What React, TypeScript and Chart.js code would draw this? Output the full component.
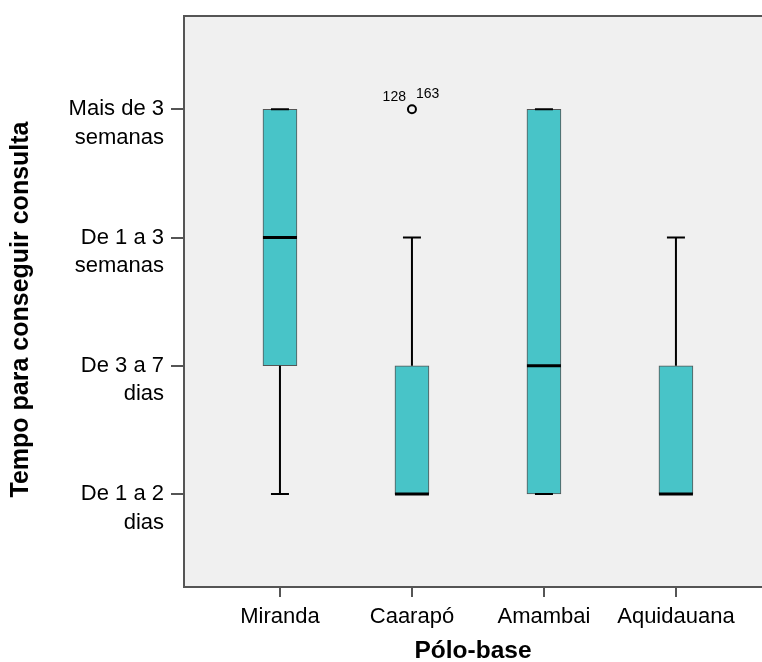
import React, { useEffect, useRef } from "react";
import { Chart, registerables } from "chart.js";

Chart.register(...registerables);

const categories = ["Miranda", "Caarapó", "Amambai", "Aquidauana"];
const whiskerLow = [1, 1, 1, 1];
const q1 = [2, 1, 1, 1];
const median = [3, 1, 2, 1];
const q3 = [4, 2, 4, 2];
const whiskerHigh = [4, 3, 4, 3];

const outlierCat = [2];
const outlierValue = [4];
const outlierIdsLeft = ["128"];
const outlierIdsRight = ["163"];

const yValues = [1, 2, 3, 4];
const yLabels = [
  ["De 1 a 2", "dias"],
  ["De 3 a 7", "dias"],
  ["De 1 a 3", "semanas"],
  ["Mais de 3", "semanas"],
];

const xTitle = "Pólo-base";
const yTitle = "Tempo para conseguir consulta";

const FONT = '"Liberation Sans", Arial, sans-serif';

const boxPlugin = {
  id: "boxExtras",
  beforeDraw(chart: any) {
    const { ctx, chartArea } = chart;
    ctx.save();
    ctx.fillStyle = "#F0F0F0";
    ctx.fillRect(chartArea.left, chartArea.top, chartArea.right - chartArea.left, chartArea.bottom - chartArea.top);
    ctx.restore();
  },
  afterDraw(chart: any) {
    const { ctx, chartArea } = chart;
    ctx.save();
    ctx.strokeStyle = "#555";
    ctx.lineWidth = 2;
    ctx.beginPath();
    ctx.moveTo(chartArea.left, chartArea.top);
    ctx.lineTo(chartArea.right, chartArea.top);
    ctx.stroke();
    // y axis title
    ctx.fillStyle = "#000";
    ctx.font = `bold 25px ${FONT}`;
    ctx.textAlign = "center";
    ctx.textBaseline = "middle";
    ctx.translate(21, (chartArea.top + chartArea.bottom) / 2 + 8);
    ctx.rotate(-Math.PI / 2);
    ctx.fillText(yTitle, 0, 0);
    ctx.restore();
  },
  afterDatasetsDraw(chart: any) {
    const { ctx } = chart;
    const xs = chart.scales.x;
    const ys = chart.scales.y;
    const capHalf = 9;
    const boxHalf = 17;
    ctx.save();
    ctx.strokeStyle = "#000";
    ctx.lineCap = "butt";
    categories.forEach((_, i) => {
      const x = xs.getPixelForValue(i + 1);
      const yLo = ys.getPixelForValue(whiskerLow[i]);
      const yQ1 = ys.getPixelForValue(q1[i]);
      const yQ3 = ys.getPixelForValue(q3[i]);
      const yHi = ys.getPixelForValue(whiskerHigh[i]);
      const yMed = ys.getPixelForValue(median[i]);
      ctx.lineWidth = 2;
      ctx.beginPath();
      if (yLo !== yQ1) {
        ctx.moveTo(x, yQ1);
        ctx.lineTo(x, yLo);
      }
      if (yHi !== yQ3) {
        ctx.moveTo(x, yQ3);
        ctx.lineTo(x, yHi);
      }
      ctx.moveTo(x - capHalf, yLo);
      ctx.lineTo(x + capHalf, yLo);
      ctx.moveTo(x - capHalf, yHi);
      ctx.lineTo(x + capHalf, yHi);
      ctx.stroke();
      ctx.lineWidth = 3;
      ctx.beginPath();
      ctx.moveTo(x - boxHalf, yMed);
      ctx.lineTo(x + boxHalf, yMed);
      ctx.stroke();
    });
    ctx.fillStyle = "#000";
    ctx.font = `14px ${FONT}`;
    outlierCat.forEach((c, i) => {
      const x = xs.getPixelForValue(c);
      const y = ys.getPixelForValue(outlierValue[i]);
      ctx.textAlign = "right";
      ctx.textBaseline = "alphabetic";
      ctx.fillText(outlierIdsLeft[i], x - 6, y - 8);
      ctx.textAlign = "left";
      ctx.fillText(outlierIdsRight[i], x + 4, y - 11);
    });
    ctx.restore();
  },
};

export default function App() {
  const ref = useRef<HTMLCanvasElement | null>(null);
  useEffect(() => {
    if (!ref.current) return;
    const chart = new Chart(ref.current, {
      type: "bar",
      data: {
        datasets: [
          {
            type: "bar",
            data: categories.map((_, i) => ({ x: i + 1, y: [q1[i], q3[i]] })) as any,
            backgroundColor: "#48C4C8",
            borderColor: "#555555",
            borderWidth: 1,
            borderSkipped: false,
            barThickness: 34,
          } as any,
          {
            type: "scatter",
            data: outlierCat.map((c, i) => ({ x: c, y: outlierValue[i] })),
            pointRadius: 4,
            pointBackgroundColor: "rgba(0,0,0,0)",
            pointBorderColor: "#000",
            pointBorderWidth: 2,
          } as any,
        ],
      },
      options: {
        responsive: false,
        animation: false,
        layout: { autoPadding: false, padding: { top: 16, left: 0, right: 0, bottom: 0 } },
        plugins: { legend: { display: false }, tooltip: { enabled: false } },
        scales: {
          x: {
            type: "linear",
            min: 0.273,
            max: 4.652,
            offset: false,
            afterBuildTicks: (s: any) => {
              s.ticks = categories.map((_, i) => ({ value: i + 1 }));
            },
            afterFit: (s: any) => {
              s.height = 85;
              s.paddingLeft = 0;
              s.paddingRight = 0;
              s.paddingTop = 0;
              s.paddingBottom = 0;
            },
            ticks: {
              callback: (v: any) => categories[Math.round(v) - 1] ?? "",
              font: { family: FONT, size: 22, lineHeight: 1.2 },
              color: "#000",
              padding: 7,
              maxRotation: 0,
              autoSkip: false,
            },
            grid: { offset: false, drawOnChartArea: false, drawTicks: true, tickLength: 10, color: "#555", lineWidth: 2 },
            border: { display: true, color: "#555", width: 2 },
            title: {
              display: true,
              text: xTitle,
              font: { family: FONT, size: 24.5, weight: "bold", lineHeight: 1.2 },
              color: "#000",
              padding: { top: 0, bottom: 6 },
            },
          },
          y: {
            type: "linear",
            min: 0.274,
            max: 4.728,
            afterBuildTicks: (s: any) => {
              s.ticks = yValues.map((v) => ({ value: v }));
            },
            afterFit: (s: any) => {
              s.width = 184;
              s.paddingLeft = 0;
              s.paddingRight = 0;
              s.paddingTop = 0;
              s.paddingBottom = 0;
            },
            ticks: {
              callback: (v: any) => {
                const l = yLabels[Math.round(v) - 1];
                return l ? ["", ...l] : "";
              },
              font: { family: FONT, size: 22, lineHeight: 1.3 },
              color: "#000",
              padding: 7,
              autoSkip: false,
            },
            grid: { drawOnChartArea: false, drawTicks: true, tickLength: 13, color: "#555", lineWidth: 2 },
            border: { display: true, color: "#555", width: 2 },
            title: { display: false },
          },
        },
      },
      plugins: [boxPlugin],
    });
    return () => chart.destroy();
  }, []);
  return (
    <div style={{ position: "fixed", left: 0, top: 0, width: 762, height: 672, background: "#fff" }}>
      <canvas ref={ref} width={762} height={672} style={{ width: 762, height: 672, display: "block" }} />
    </div>
  );
}
